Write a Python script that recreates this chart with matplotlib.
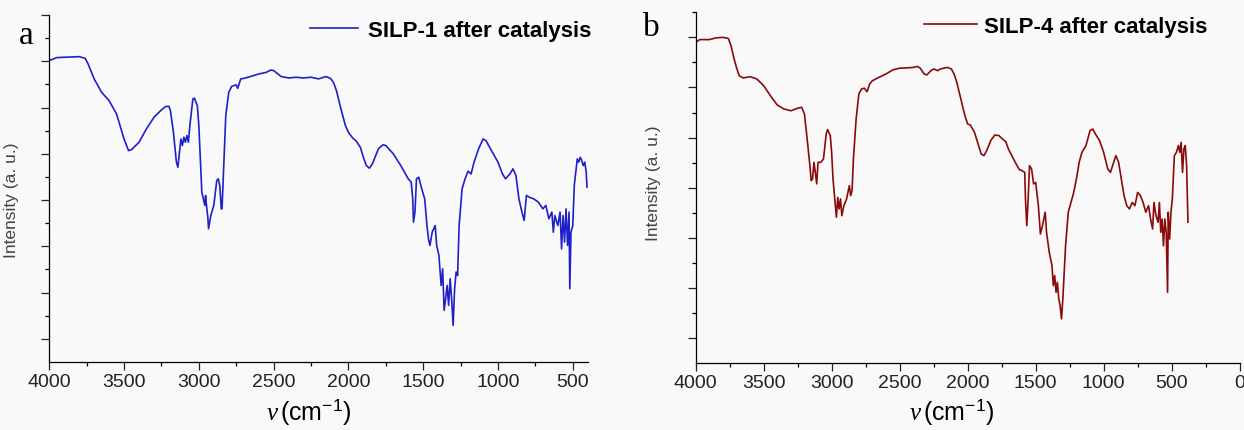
import matplotlib
matplotlib.use("Agg")
import matplotlib.pyplot as plt
from matplotlib.ticker import MultipleLocator, FixedLocator

plt.rcParams['font.family'] = ['Liberation Sans', 'DejaVu Sans']
plt.rcParams['mathtext.fontset'] = 'custom'
plt.rcParams['mathtext.rm'] = 'Liberation Sans'
plt.rcParams['mathtext.it'] = 'Liberation Serif:italic'

# SILP-1 after catalysis (a)
wn_a = [4000, 3950, 3800, 3760, 3740, 3700, 3650, 3600, 3550, 3500, 3470, 3450, 3400, 3350,
        3300, 3250, 3220, 3200, 3190, 3170, 3150, 3140, 3120, 3110, 3100, 3090, 3080, 3070,
        3060, 3040, 3030, 3010, 3000, 2990, 2980, 2970, 2960, 2955, 2950, 2940, 2935, 2920,
        2900, 2880, 2870, 2860, 2850, 2845, 2835, 2820, 2800, 2780, 2750, 2740, 2720, 2700,
        2650, 2600, 2550, 2520, 2500, 2450, 2400, 2350, 2300, 2250, 2200, 2150, 2120, 2100,
        2080, 2050, 2020, 2000, 1970, 1950, 1920, 1900, 1880, 1860, 1840, 1800, 1770, 1750,
        1700, 1650, 1600, 1580, 1570, 1565, 1555, 1545, 1530, 1510, 1490, 1475, 1465, 1455,
        1440, 1420, 1410, 1395, 1380, 1370, 1360, 1350, 1340, 1330, 1320, 1310, 1300, 1290,
        1280, 1270, 1260, 1240, 1220, 1200, 1180, 1160, 1130, 1100, 1080, 1050, 1000, 970,
        950, 920, 900, 880, 860, 840, 825, 810, 790, 760, 730, 700, 680, 660, 640, 630, 620,
        600, 585, 575, 565, 555, 545, 535, 525, 520, 512, 500, 490, 470, 460, 450, 440, 430,
        420, 410, 405]
int_a = [13.03, 13.16, 13.2, 13.13, 12.88, 12.24, 11.66, 11.3, 10.72, 9.64, 9.14, 9.18, 9.5, 10.08,
         10.58, 10.9, 11.05, 11.05, 10.87, 9.93, 8.64, 8.42, 9.64, 9.36, 9.72, 9.5, 9.79, 9.5,
         10.22, 11.37, 11.41, 11.08, 10.22, 8.78, 7.34, 7.05, 6.77, 7.2, 6.84, 6.26, 5.76, 6.33,
         6.77, 7.85, 7.92, 7.63, 6.62, 6.62, 8.2, 10.65, 11.66, 11.92, 11.98, 11.83, 12.24, 12.26,
         12.35, 12.45, 12.52, 12.62, 12.6, 12.34, 12.28, 12.31, 12.28, 12.31, 12.24, 12.34, 12.26, 12.09,
         11.73, 10.94, 10.22, 9.93, 9.67, 9.57, 9.28, 8.85, 8.49, 8.38, 8.56, 9.21, 9.39, 9.36,
         9.0, 8.49, 7.92, 7.77, 7.05, 6.05, 6.48, 7.92, 7.99, 7.49, 7.05, 5.9, 5.33, 5.04,
         5.61, 5.9, 5.04, 4.61, 3.31, 4.03, 2.23, 2.74, 3.31, 2.45, 3.6, 2.74, 1.58, 3.17,
         3.89, 3.74, 5.9, 7.49, 7.92, 8.25, 8.13, 8.64, 9.21, 9.64, 9.57, 9.21, 8.64, 8.13,
         7.92, 8.13, 8.35, 8.06, 7.05, 6.48, 6.12, 7.2, 7.12, 7.05, 6.91, 6.62, 6.77, 6.19, 6.48, 5.61, 6.33,
         5.9, 6.48, 4.89, 6.33, 5.18, 6.62, 5.04, 6.48, 3.17, 5.61, 5.9, 7.63, 8.78, 8.64, 8.85, 8.71, 8.49,
         8.64, 8.2, 7.56]

# SILP-4 after catalysis (b)
wn_b = [4000, 3970, 3900, 3850, 3800, 3760, 3740, 3720, 3700, 3680, 3650, 3600, 3550, 3500,
        3450, 3400, 3350, 3300, 3250, 3220, 3200, 3180, 3160, 3150, 3140, 3130, 3120, 3110,
        3100, 3080, 3060, 3040, 3030, 3010, 3000, 2990, 2975, 2965, 2955, 2945, 2935, 2925,
        2910, 2890, 2870, 2860, 2850, 2840, 2820, 2800, 2780, 2760, 2740, 2720, 2700, 2650,
        2600, 2550, 2500, 2450, 2400, 2370, 2350, 2320, 2300, 2270, 2250, 2220, 2200, 2150,
        2120, 2100, 2080, 2050, 2020, 2000, 1980, 1950, 1920, 1900, 1880, 1860, 1830, 1800,
        1770, 1750, 1720, 1700, 1650, 1620, 1600, 1580, 1575, 1565, 1555, 1545, 1530, 1515,
        1500, 1480, 1465, 1450, 1440, 1430, 1420, 1400, 1380, 1370, 1360, 1350, 1340, 1330,
        1320, 1310, 1300, 1290, 1280, 1260, 1240, 1220, 1200, 1180, 1160, 1130, 1100, 1080,
        1060, 1030, 1000, 970, 950, 930, 910, 890, 870, 850, 830, 810, 790, 770, 750, 730,
        710, 690, 670, 655, 640, 630, 615, 600, 590, 580, 570, 560, 550, 540, 530, 525, 515,
        505, 495, 480, 465, 450, 440, 430, 420, 410, 400, 390, 380]
int_b = [12.8, 12.91, 12.91, 12.98, 13.0, 12.96, 12.67, 12.2, 11.8, 11.47, 11.38, 11.43, 11.34, 11.07,
         10.67, 10.3, 10.14, 10.07, 10.17, 10.21, 9.94, 8.94, 7.88, 7.28, 7.35, 8.01, 7.61, 7.15,
         8.01, 8.01, 8.14, 9.14, 9.32, 9.08, 8.41, 7.35, 6.41, 5.82, 6.61, 6.15, 6.55, 5.88,
         6.28, 6.55, 7.08, 6.68, 6.88, 8.14, 9.74, 10.74, 10.94, 10.97, 10.83, 11.14, 11.27, 11.41,
         11.54, 11.7, 11.77, 11.78, 11.8, 11.84, 11.78, 11.54, 11.5, 11.67, 11.74, 11.67, 11.74, 11.8,
         11.74, 11.54, 11.21, 10.54, 9.87, 9.54, 9.5, 9.21, 8.68, 8.34, 8.28, 8.48, 8.88, 9.1,
         9.08, 8.97, 8.84, 8.54, 8.01, 7.72, 7.68, 7.61, 6.55, 5.48, 6.55, 7.88, 7.75, 7.15,
         7.21, 6.28, 5.15, 5.48, 5.75, 6.02, 5.22, 4.42, 3.89, 3.09, 3.49, 2.82, 3.22, 2.56,
         2.29, 1.76, 2.56, 3.62, 4.68, 6.02, 6.41, 6.81, 7.35, 8.01, 8.41, 8.68, 9.28, 9.34,
         9.14, 8.88, 8.41, 7.75, 7.61, 7.95, 8.28, 8.01, 7.35, 6.68, 6.28, 6.15, 6.41, 6.28, 6.81, 6.68,
         6.41, 6.02, 6.28, 5.75, 5.35, 6.41, 5.88, 5.62, 6.41, 5.22, 5.75, 4.68, 5.75, 5.22, 2.82, 6.02, 4.95,
         6.02, 6.55, 8.28, 8.41, 8.68, 8.41, 8.81, 7.61, 8.54, 8.68, 7.88, 5.62]

fig = plt.figure(figsize=(12.44, 4.31), dpi=100, facecolor='#f9f9f9')
ax1 = fig.add_axes([0.0396, 0.1578, 0.4331, 0.805])
ax2 = fig.add_axes([0.5592, 0.1555, 0.4373, 0.8136])

ax1.plot(wn_a, int_a, color='#2020c8', lw=1.2, label='SILP-1 after catalysis')
ax2.plot(wn_b, int_b, color='#8a0a0a', lw=1.2, label='SILP-4 after catalysis')

ax1.set_xlim(4000, 398)
ax1.set_ylim(0, 15)
ax1.yaxis.set_major_locator(FixedLocator([1, 3, 5, 7, 9, 11, 13, 15]))
ax1.yaxis.set_minor_locator(FixedLocator([2, 4, 6, 8, 10, 12, 14]))
ax2.set_xlim(4000, 0)
ax2.set_ylim(0, 14)
ax2.yaxis.set_major_locator(FixedLocator([1, 3, 5, 7, 9, 11, 13]))
ax2.yaxis.set_minor_locator(FixedLocator([2, 4, 6, 8, 10, 12, 14]))

for ax in (ax1, ax2):
    ax.set_facecolor('none')
    ax.spines['top'].set_visible(False)
    ax.spines['right'].set_visible(False)
    for s in ('left', 'bottom'):
        ax.spines[s].set_linewidth(0.9)
    ax.xaxis.set_major_locator(MultipleLocator(500))
    ax.xaxis.set_minor_locator(MultipleLocator(250))
    ax.tick_params(which='major', direction='out', length=5.5, width=0.9, labelsize=14, pad=2.5,
                   colors='#222222')
    ax.tick_params(which='minor', direction='out', length=3, width=0.9)
    ax.tick_params(axis='y', labelleft=False)
    ax.set_xlabel(r'$\nu\,$(cm$^{-1}$)', fontsize=18)
    ax.set_ylabel('Intensity (a. u.)', fontsize=12.5, color='#444444')

ax1.xaxis.set_label_coords(0.482, -0.097)
ax2.xaxis.set_label_coords(0.471, -0.094)
ax1.yaxis.set_label_coords(-0.056, 0.47)
ax2.yaxis.set_label_coords(-0.064, 0.516)

leg_font = {'weight': 'bold', 'size': 16}
ax1.legend(loc='upper right', bbox_to_anchor=(1.007, 0.985), frameon=False, prop=leg_font,
           borderpad=0, borderaxespad=0, handlelength=2.16, handletextpad=0.45)
ax2.legend(loc='upper right', bbox_to_anchor=(0.94, 0.99), frameon=False, prop=leg_font,
           borderpad=0, borderaxespad=0, handlelength=2.4, handletextpad=0.3)

fig.text(0.0215, 0.918, 'a', family='Liberation Serif', fontsize=24, va='center', ha='center')
fig.text(0.524, 0.935, 'b', family='Liberation Serif', fontsize=24, va='center', ha='center')

fig.savefig('out.png', dpi=100, facecolor=fig.get_facecolor())
